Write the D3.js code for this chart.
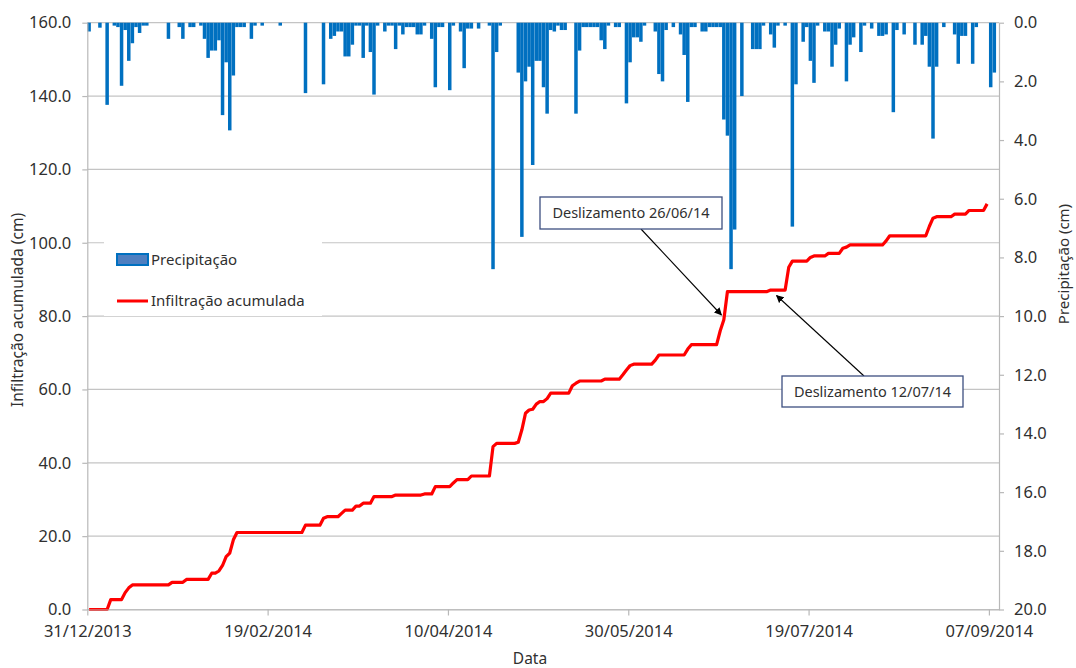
<!DOCTYPE html>
<html><head><meta charset="utf-8">
<script src="https://cdn.jsdelivr.net/npm/d3@7/dist/d3.min.js"></script>
<style>
html,body{margin:0;padding:0;background:#fff;}
svg text{font-family:"Noto Sans","Open Sans",sans-serif;fill:#303030;}
</style></head>
<body><svg id="c" width="1076" height="668"></svg>
<script>
// ---- data ----
const startDate = "2013-12-31";           // first day of both series
const xTickLabels = ["31/12/2013","19/02/2014","10/04/2014","30/05/2014","19/07/2014","07/09/2014"];
const leftTicks = [0,20,40,60,80,100,120,140,160];
const rightTicks = [0,2,4,6,8,10,12,14,16,18,20];
// daily precipitation (cm), day 0 = 31/12/2013
const precipitacao = [
 0.3,0,0,0.17,0,2.8,0,0.1,0.15,2.15,
 0.25,1.3,0.7,0.15,0.35,0.1,0.1,0,0,0,
 0,0,0.55,0,0,0.15,0.55,0,0.15,0.15,
 0,0.1,0.55,1.2,0.95,0.95,0.6,3.15,1.35,3.67,
 1.8,0.15,0.15,0.15,0,0.55,0.1,0,0.1,0,
 0,0,0,0.1,0,0,0,0,0,0,
 2.4,0,0,0,0,2.1,0,0.55,0.45,0.3,
 0.3,1.15,1.15,0.75,0.1,0.1,1.2,0.1,1.0,2.45,
 0.1,0,0.3,0.1,0.1,0.9,0.1,0.4,0.15,0.15,
 0.15,0.4,0.4,0.1,0,0.55,2.2,0.15,0.15,0,
 2.3,0.1,0,0.3,1.55,0.2,0.2,0,0.2,0,
 0,0.1,8.4,1.0,0.1,0,0,0,0,1.7,
 7.3,2.0,1.5,4.85,1.3,1.3,2.2,3.1,0.25,0.3,
 0.1,0.25,0.25,0,0,3.1,0.95,0.15,0.15,0.15,
 0.15,0.15,0.6,0.9,0.1,0,0.15,0.15,0,2.75,
 1.35,0.5,0.5,0.65,0.1,0,0,0.3,1.75,2.0,
 0.25,0,0.15,0,0.4,1.1,2.7,0.15,0.15,0,
 0.3,0.3,0.15,0.15,0.15,0.15,3.3,3.85,8.4,7.05,
 0,2.5,0,0,0.9,0.9,0.9,0.1,0,0.4,
 0.85,0.1,0,0.1,0,6.95,2.1,0,0.65,0.15,
 1.3,2.05,0.1,0,0.3,0.3,1.5,0.75,0.2,0,
 2.0,0.75,0.5,0,1.0,0.1,0,0.2,0,0.45,
 0.45,0.4,0,3.05,0.25,0,0.4,0,0,0.75,
 0,0.75,0.45,1.5,3.95,1.5,0,0.15,0,0,
 0.4,1.4,0.45,0.45,0,1.4,0.15,0,0,0,
 2.2,1.7
];
// daily accumulated infiltration (cm)
const infiltracao = [
 0,0,0,0,0,0,2.7,2.7,2.7,2.7,
 4.6,5.9,6.7,6.7,6.7,6.7,6.7,6.7,6.7,6.7,
 6.7,6.7,6.7,7.4,7.4,7.4,7.4,8.2,8.2,8.2,
 8.2,8.2,8.2,8.2,9.9,9.9,10.5,12.0,14.4,15.4,
 19.0,21.0,21.0,21.0,21.0,21.0,21.0,21.0,21.0,21.0,
 21.0,21.0,21.0,21.0,21.0,21.0,21.0,21.0,21.0,21.0,
 23.0,23.0,23.0,23.0,23.0,24.9,25.3,25.3,25.3,25.3,
 26.2,27.1,27.1,27.1,28.2,28.2,29.0,29.0,29.0,30.8,
 30.8,30.8,30.8,30.8,30.8,31.2,31.2,31.2,31.2,31.2,
 31.2,31.2,31.2,31.5,31.5,31.5,33.5,33.5,33.5,33.5,
 33.5,34.5,35.4,35.4,35.4,35.4,36.4,36.4,36.4,36.4,
 36.4,36.4,44.4,45.3,45.3,45.3,45.3,45.3,45.3,45.6,
 49.0,53.5,54.4,54.6,56.0,56.7,56.7,57.5,59.0,59.0,
 59.0,59.0,59.0,59.0,61.0,61.7,62.3,62.3,62.3,62.3,
 62.3,62.3,62.3,62.8,62.8,62.8,62.8,62.8,64.0,65.3,
 66.5,66.9,66.9,66.9,66.9,66.9,66.9,68.0,69.4,69.4,
 69.4,69.4,69.4,69.4,69.4,69.4,71.0,72.2,72.2,72.2,
 72.2,72.2,72.2,72.2,72.2,76.0,79.0,86.7,86.7,86.7,
 86.7,86.7,86.7,86.7,86.7,86.7,86.7,86.7,86.7,87.1,
 87.1,87.1,87.1,87.1,93.3,95.0,95.0,95.0,95.0,95.0,
 96.0,96.4,96.4,96.4,96.4,97.1,97.1,97.1,97.1,98.5,
 98.8,99.4,99.4,99.4,99.4,99.4,99.4,99.4,99.4,99.4,
 99.4,100.5,101.9,101.9,101.9,101.9,101.9,101.9,101.9,101.9,
 101.9,101.9,101.9,104.5,106.7,107.1,107.1,107.1,107.1,107.1,
 107.8,107.8,107.8,107.8,108.8,108.8,108.8,108.8,108.8,110.6
];
const seriesNames = ["Precipitação","Infiltração acumulada"];
const notes = [{text:"Deslizamento 26/06/14", date:"2014-06-26"},{text:"Deslizamento 12/07/14", date:"2014-07-12"}];

// ---- layout ----
const L = 87.3, R = 999, T = 22.7, B = 609.5;
const svg = d3.select("#c");
const DAY = 864e5;
const t0 = new Date(startDate + "T00:00:00Z");
const x = d3.scaleUtc().domain([t0, new Date(t0.getTime() + 252.8*DAY)]).range([L, R]);
const yL = d3.scaleLinear().domain([0,160]).range([B, T]);
const yR = d3.scaleLinear().domain([0,20]).range([T, B]);
const dayMid = i => new Date(t0.getTime() + (i + 0.5)*DAY);
const parse = s => new Date(s + "T00:00:00Z");

// gridlines
svg.append("g").selectAll("line").data(leftTicks).join("line")
  .attr("x1", L).attr("x2", R).attr("y1", d => yL(d)).attr("y2", d => yL(d))
  .attr("stroke", "#c4c4c4").attr("stroke-width", 1.2);

// bars
const bw = 3.5;
svg.append("g").selectAll("rect").data(precipitacao.map((v,i)=>({i,v})).filter(d=>d.v>0)).join("rect")
  .attr("x", d => x(dayMid(d.i)) - bw/2).attr("width", bw)
  .attr("y", yR(0)).attr("height", d => yR(d.v) - yR(0))
  .attr("fill", "#0070c0");

// line
const line = d3.line().x((d,i) => x(dayMid(i))).y(d => yL(d));
svg.append("path").datum(infiltracao).attr("d", line)
  .attr("fill", "none").attr("stroke", "#ff0000").attr("stroke-width", 3.2).attr("stroke-linejoin", "round");

// axes
const fmt = d3.format(".1f");
const axisStyle = g => {
  g.select(".domain").attr("stroke", "#b8b8b8").attr("stroke-width", 1.2);
  g.selectAll(".tick line").attr("stroke", "#b8b8b8").attr("stroke-width", 1.2);
  g.selectAll("text").attr("font-size", 16.5).attr("fill", "#303030");
};
svg.append("g").attr("transform", `translate(${L},0)`)
  .call(d3.axisLeft(yL).tickValues(leftTicks).tickFormat(fmt).tickSize(5).tickPadding(11).tickSizeOuter(0))
  .call(axisStyle);
svg.append("g").attr("transform", `translate(${R},0)`)
  .call(d3.axisRight(yR).tickValues(rightTicks).tickFormat(fmt).tickSize(5).tickPadding(10).tickSizeOuter(0))
  .call(axisStyle);
const xTickDates = xTickLabels.map(s => { const [d,m,y] = s.split("/"); return parse(`${y}-${m}-${d}`); });
svg.append("g").attr("transform", `translate(0,${B})`)
  .call(d3.axisBottom(x).tickValues(xTickDates).tickFormat((d,i) => xTickLabels[i]).tickSize(6).tickPadding(10).tickSizeOuter(0))
  .call(axisStyle);

// axis titles
svg.append("text").attr("transform", "translate(23,310) rotate(-90)").attr("text-anchor", "middle")
  .attr("font-size", 15.5).text("Infiltração acumulada (cm)");
svg.append("text").attr("transform", "translate(1069,264) rotate(-90)").attr("text-anchor", "middle")
  .attr("font-size", 15).text("Precipitação (cm)");
svg.append("text").attr("x", 530).attr("y", 664).attr("text-anchor", "middle").attr("font-size", 15.5).text("Data");

// legend
const lg = svg.append("g");
lg.append("rect").attr("x", 104).attr("y", 236).attr("width", 218).attr("height", 80).attr("fill", "#fff");
lg.append("rect").attr("x", 117).attr("y", 254).attr("width", 31).attr("height", 11)
  .attr("fill", "#4f7fc0").attr("stroke", "#0070c0").attr("stroke-width", 2);
lg.append("text").attr("x", 151).attr("y", 265).attr("font-size", 15).text(seriesNames[0]);
lg.append("line").attr("x1", 117).attr("x2", 148).attr("y1", 301).attr("y2", 301).attr("stroke", "#ff0000").attr("stroke-width", 3);
lg.append("text").attr("x", 151).attr("y", 306).attr("font-size", 15).text(seriesNames[1]);

// annotations
const defs = svg.append("defs");
defs.append("marker").attr("id", "arr").attr("viewBox", "0 0 10 10").attr("refX", 9).attr("refY", 5)
  .attr("markerWidth", 7).attr("markerHeight", 7).attr("orient", "auto")
  .append("path").attr("d", "M0,0 L10,5 L0,10 z").attr("fill", "#000");
const boxes = [
  {x:540, y:197, w:182, h:32, ax:641, ay:229, tx: x(dayMid(177)) - 6, ty: yL(80.3)},
  {x:782, y:376, w:181, h:31, ax:864, ay:376, tx: x(dayMid(192)) - 5, ty: yL(86.7) + 4}
];
boxes.forEach((b,k) => {
  svg.append("line").attr("x1", b.ax).attr("y1", b.ay).attr("x2", b.tx).attr("y2", b.ty)
    .attr("stroke", "#000").attr("stroke-width", 1.1).attr("marker-end", "url(#arr)");
  svg.append("rect").attr("x", b.x).attr("y", b.y).attr("width", b.w).attr("height", b.h)
    .attr("fill", "#fff").attr("stroke", "#3d4f80").attr("stroke-width", 1.3);
  svg.append("text").attr("x", b.x + b.w/2).attr("y", b.y + b.h/2 + 5).attr("text-anchor", "middle")
    .attr("font-size", 14.5).attr("fill", "#1e1e1e").text(notes[k].text);
});
</script></body></html>
